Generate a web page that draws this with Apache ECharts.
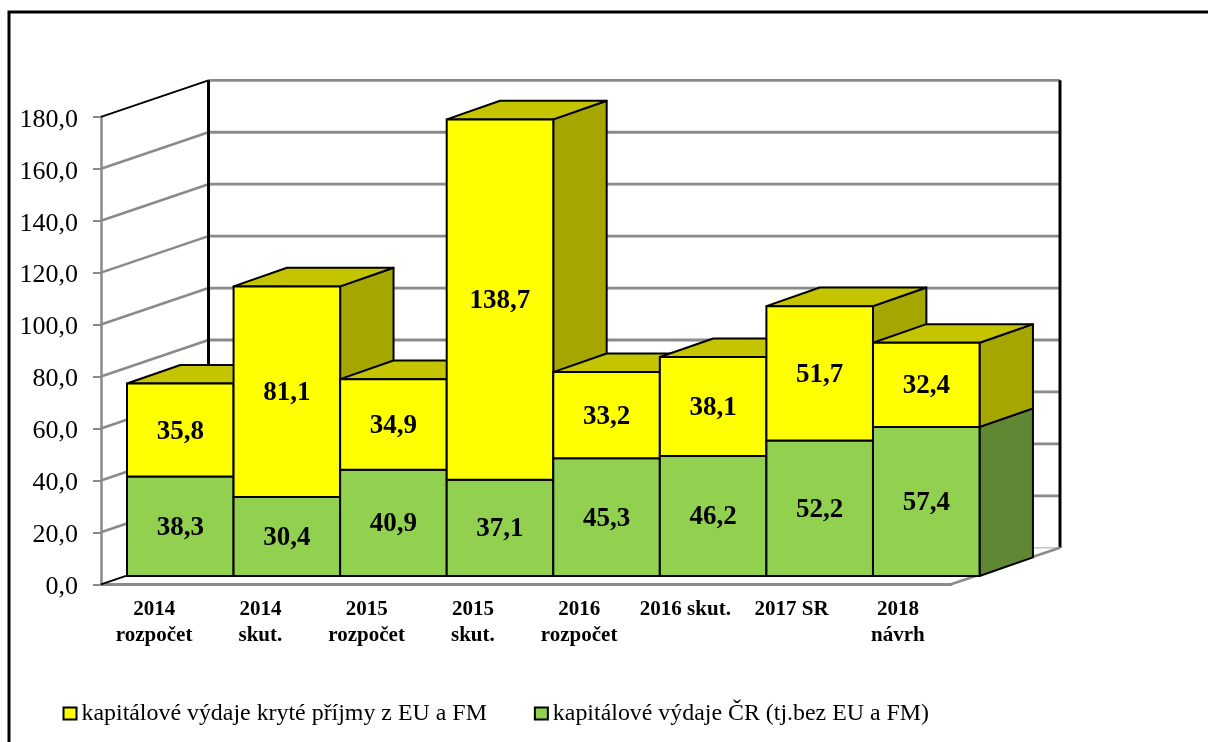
<!DOCTYPE html>
<html>
<head>
<meta charset="utf-8">
<style>html,body{margin:0;padding:0;background:#fff;overflow:hidden}#c{width:1208px;height:742px}</style>
<script src="https://cdn.jsdelivr.net/npm/echarts@6/dist/echarts.min.js"></script>
</head>
<body>
<div id="c"></div>
<script>
const categories = ['2014\nrozpočet','2014\nskut.','2015\nrozpočet','2015\nskut.','2016\nrozpočet','2016 skut.','2017 SR','2018\nnávrh'];
const narodni = [38.3,30.4,40.9,37.1,45.3,46.2,52.2,57.4];
const eu = [35.8,81.1,34.9,138.7,33.2,38.1,51.7,32.4];
const yTicks = [0,20,40,60,80,100,120,140,160,180];
const nameEu = 'kapitálové výdaje kryté příjmy z EU a FM';
const nameCr = 'kapitálové výdaje ČR (tj.bez EU a FM)';

const FONT = '"Liberation Serif","Times New Roman",serif';
const WALL = [107.5,-36.5];      // depth of the floor
const WALL_RIGHT = 109;          // depth of the floor along the right edge
const FRONT = [26,-8.3];         // bar front relative to chart front
const DEPTH = [53.4,-18.6];      // depth of one bar
const SPREAD = 1.003;
const GRID = '#8a8a8a';
const fmt = v => v.toFixed(1).replace('.',',');

function renderWall(params, api){
  const v = api.value(0);
  const cs = params.coordSys;
  const y = api.coord([0,v])[1];
  const x0 = cs.x, x1 = cs.x + WALL[0], x2 = cs.x + cs.width + WALL_RIGHT, yb = y + WALL[1];
  const isTop = v === yTicks[yTicks.length-1], isBottom = v === 0;
  const children = [];
  children.push({type:'polyline',z2:1,shape:{points:[[x1,yb],[x2,yb]]},
    style:{fill:null,stroke:isBottom?'#c4c4c4':GRID,lineWidth:isBottom?1.5:2.8}});
  children.push({type:'polyline',z2:2,shape:{points:[[x0,y],[x1,yb]]},
    style:{fill:null,stroke:(isTop||isBottom)?'#000':GRID,lineWidth:isTop||isBottom?1.8:2.6}});
  if(isBottom){
    const top = api.coord([0,yTicks[yTicks.length-1]])[1] + WALL[1];
    children.push({type:'polyline',z2:3,shape:{points:[[x1,yb],[x1,top]]},style:{fill:null,stroke:'#000',lineWidth:3}});
    children.push({type:'polyline',z2:3,shape:{points:[[x2,yb],[x2,top]]},style:{fill:null,stroke:'#000',lineWidth:3}});
    children.push({type:'polyline',z2:3,shape:{points:[[cs.x+cs.width,y],[x2,yb]]},style:{fill:null,stroke:GRID,lineWidth:2.5}});
  }
  return {type:'group',children};
}

function barRenderer(front, top, side, level){
  return function(params, api){
    const i = api.value(0), base = api.value(1), val = api.value(2);
    const cs = params.coordSys;
    const w = api.size([1,0])[0] * SPREAD;
    const x = cs.x + FRONT[0] + i*w;
    const y0 = api.coord([i,base])[1] + FRONT[1];
    const y1 = api.coord([i,base+val])[1] + FRONT[1];
    const dx = DEPTH[0], dy = DEPTH[1];
    const z = 10 + i*4 + level;
    const ln = {stroke:'#000',lineWidth:2,lineJoin:'round'};
    return {type:'group',children:[
      {type:'polygon',z2:z,shape:{points:[[x+w,y0],[x+w+dx,y0+dy],[x+w+dx,y1+dy],[x+w,y1]]},style:{fill:side,...ln}},
      {type:'polygon',z2:z,shape:{points:[[x,y1],[x+dx,y1+dy],[x+w+dx,y1+dy],[x+w,y1]]},style:{fill:top,...ln}},
      {type:'rect',z2:z+1,shape:{x:x,y:y1,width:w,height:y0-y1},style:{fill:front,...ln}},
      {type:'text',z2:1000,style:{x:x+w/2,y:(y0+y1)/2+1.5,text:fmt(val),align:'center',verticalAlign:'middle',
        font:'bold 27px '+FONT,fill:'#000'}}
    ]};
  };
}

const chart = echarts.init(document.getElementById('c'),null,{renderer:'canvas'});
chart.setOption({
  animation:false,
  backgroundColor:'#fff',
  graphic:[{type:'rect',silent:true,shape:{x:9,y:12,width:1400,height:1000},style:{fill:null,stroke:'#000',lineWidth:3}}],
  grid:{left:101,top:116.8,width:850,height:467.5,containLabel:false},
  legend:{
    left:57.5,top:696.5,itemWidth:13,itemHeight:12,itemGap:47,
    icon:'rect',
    textStyle:{fontFamily:FONT,fontSize:23.9,color:'#000'},
    data:[nameEu,nameCr]
  },
  xAxis:{type:'category',data:categories,
    axisLine:{lineStyle:{color:GRID,width:3}},
    axisTick:{alignWithLabel:false,length:7,lineStyle:{color:GRID,width:2}},
    axisLabel:{interval:0,margin:12,color:'#000',fontFamily:FONT,fontWeight:'bold',fontSize:21,lineHeight:26}},
  yAxis:{type:'value',min:0,max:180,interval:20,
    axisLine:{show:true,lineStyle:{color:GRID,width:2.5}},
    axisTick:{show:true,length:8,lineStyle:{color:GRID,width:2}},
    splitLine:{show:false},
    axisLabel:{margin:23,color:'#000',fontFamily:FONT,fontSize:26,
      formatter:v=>'{t|'+fmt(v)+'}',
      rich:{t:{fontFamily:FONT,fontSize:26,color:'#000',padding:[6,0,0,0]}}}},
  series:[
    {name:'walls',type:'custom',coordinateSystem:'cartesian2d',renderItem:renderWall,silent:true,clip:false,
     encode:{y:0},data:yTicks.map(v=>[v]),z:1},
    {name:nameCr,type:'custom',coordinateSystem:'cartesian2d',clip:false,z:3,
     renderItem:barRenderer('#92D050','#76A83F','#5F8734',0),
     itemStyle:{color:'#92D050',borderColor:'#000',borderWidth:2},
     encode:{x:0,y:[1,2]},
     data:narodni.map((v,i)=>[i,0,v])},
    {name:nameEu,type:'custom',coordinateSystem:'cartesian2d',clip:false,z:3,
     renderItem:barRenderer('#FFFF00','#C4C400','#A6A600',2),
     itemStyle:{color:'#FFFF00',borderColor:'#000',borderWidth:2},
     encode:{x:0,y:[1,2]},
     data:eu.map((v,i)=>[i,narodni[i],v])}
  ]
});
</script>
</body>
</html>
